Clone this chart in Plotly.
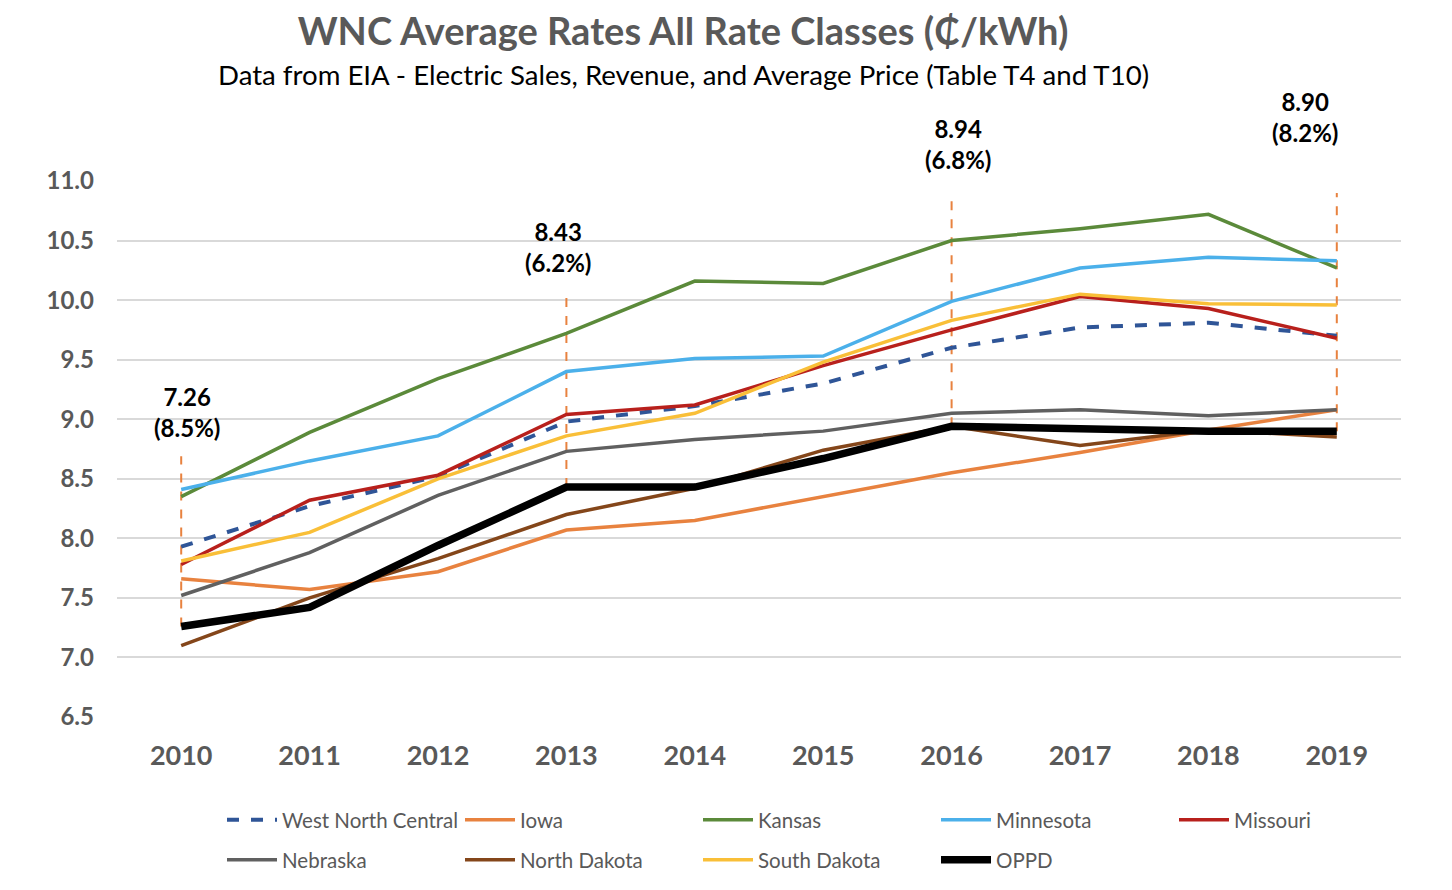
import plotly.graph_objects as go

years = [2010, 2011, 2012, 2013, 2014, 2015, 2016, 2017, 2018, 2019]

wnc = [7.93, 8.27, 8.52, 8.98, 9.11, 9.30, 9.60, 9.77, 9.81, 9.70]
iowa = [7.66, 7.57, 7.72, 8.07, 8.15, 8.35, 8.55, 8.72, 8.91, 9.08]
kansas = [8.35, 8.89, 9.34, 9.72, 10.16, 10.14, 10.50, 10.60, 10.72, 10.27]
minnesota = [8.41, 8.65, 8.86, 9.40, 9.51, 9.53, 9.99, 10.27, 10.36, 10.33]
missouri = [7.78, 8.32, 8.53, 9.04, 9.12, 9.45, 9.75, 10.03, 9.93, 9.68]
nebraska = [7.52, 7.88, 8.36, 8.73, 8.83, 8.90, 9.05, 9.08, 9.03, 9.08]
north_dakota = [7.10, 7.50, 7.83, 8.20, 8.42, 8.74, 8.94, 8.78, 8.91, 8.85]
south_dakota = [7.81, 8.05, 8.50, 8.86, 9.05, 9.48, 9.83, 10.05, 9.97, 9.96]
oppd = [7.26, 7.42, 7.94, 8.43, 8.43, 8.67, 8.94, 8.92, 8.90, 8.90]

# callout years, percentages, and marker-line tops
callout_years = [2010, 2013, 2016, 2019]
callout_pct = ["8.5%", "6.2%", "6.8%", "8.2%"]
callout_line_top = [8.69, 10.07, 10.90, 10.90]
callout_label_y = [9.06, 10.45, 11.31, 11.54]
callout_xshift = [6, -8, 6, -32]

y_ticks = [6.5, 7.0, 7.5, 8.0, 8.5, 9.0, 9.5, 10.0, 10.5, 11.0]
Y_MIN, Y_MAX = 6.5, 11.0

series = [
    ("West North Central", wnc, "#2F5597", 4, "dash", "legend"),
    ("Iowa", iowa, "#E8823F", 3.5, "solid", "legend"),
    ("Kansas", kansas, "#5B8A3A", 3.5, "solid", "legend"),
    ("Minnesota", minnesota, "#4BB0EA", 3.5, "solid", "legend"),
    ("Missouri", missouri, "#B8201C", 3.5, "solid", "legend"),
    ("Nebraska", nebraska, "#606060", 3.5, "solid", "legend2"),
    ("North Dakota", north_dakota, "#84461A", 3.5, "solid", "legend2"),
    ("South Dakota", south_dakota, "#F9BF38", 3.5, "solid", "legend2"),
    ("OPPD", oppd, "#000000", 7.5, "solid", "legend2"),
]

FONT = "Lato"
GRAY = "#595959"

fig = go.Figure()

# dashed orange vertical callout lines
vx, vy = [], []
for yr, top in zip(callout_years, callout_line_top):
    v = oppd[years.index(yr)]
    vx += [yr, yr, None]
    vy += [v, top, None]
fig.add_trace(go.Scatter(x=vx, y=vy, mode="lines", showlegend=False, hoverinfo="skip",
                         line=dict(color="#E8823F", width=2, dash="dash")))

for name, vals, color, width, dash, leg in series:
    fig.add_trace(go.Scatter(x=years, y=vals, mode="lines", name=name, legend=leg,
                             line=dict(color=color, width=width, dash=dash)))

for yr, pct, ly, xs in zip(callout_years, callout_pct, callout_label_y, callout_xshift):
    v = oppd[years.index(yr)]
    fig.add_annotation(x=yr, y=(ly - Y_MIN) / (Y_MAX - Y_MIN), xref="x", yref="paper",
                       yanchor="middle", xanchor="center",
                       text=f"<b>{v:.2f}<br>({pct})</b>",
                       showarrow=False, xshift=xs, align="center",
                       font=dict(family=FONT, size=24, color="#000000"))

fig.add_annotation(text="Data from EIA - Electric Sales, Revenue, and Average Price (Table T4 and T10)",
                   xref="paper", yref="paper", x=(683 - 117) / (1401 - 117), y=1.0,
                   yanchor="middle", yshift=(181 - 74), showarrow=False,
                   font=dict(family=FONT, size=27.6, color="#000000"))

leg_common = dict(orientation="h", xref="container", yref="container",
                  xanchor="left", yanchor="middle",
                  entrywidth=173, itemwidth=50,
                  font=dict(family=FONT, size=20.5, color=GRAY))

fig.update_layout(
    width=1452, height=890,
    paper_bgcolor="white", plot_bgcolor="white",
    margin=dict(l=117, r=51, t=181, b=173),
    title=dict(text="<b>WNC Average Rates All Rate Classes (₵/kWh)</b>",
               x=683 / 1452, xanchor="center", xref="container",
               y=1 - 32 / 890, yanchor="middle", yref="container",
               font=dict(family=FONT, size=38, color=GRAY)),
    xaxis=dict(range=[2009.5, 2019.5], tickvals=years, ticktext=[f"<b>{y}</b>" for y in years],
               showgrid=False, zeroline=False, showline=False, ticks="",
               ticklabelstandoff=20,
               tickfont=dict(family=FONT, size=27, color=GRAY)),
    yaxis=dict(range=[Y_MIN, Y_MAX], tickvals=y_ticks,
               ticktext=[f"<b>{v:.1f}</b>" for v in y_ticks],
               showgrid=True, gridcolor="#D9D9D9", gridwidth=2, zeroline=False, showline=False,
               ticks="", ticklabelstandoff=22,
               tickfont=dict(family=FONT, size=24, color=GRAY)),
    legend=dict(x=222 / 1452, y=1 - 820 / 890, **leg_common),
    legend2=dict(x=222 / 1452, y=1 - 860 / 890, **leg_common),
    showlegend=True,
)

fig.write_html("out.html")
